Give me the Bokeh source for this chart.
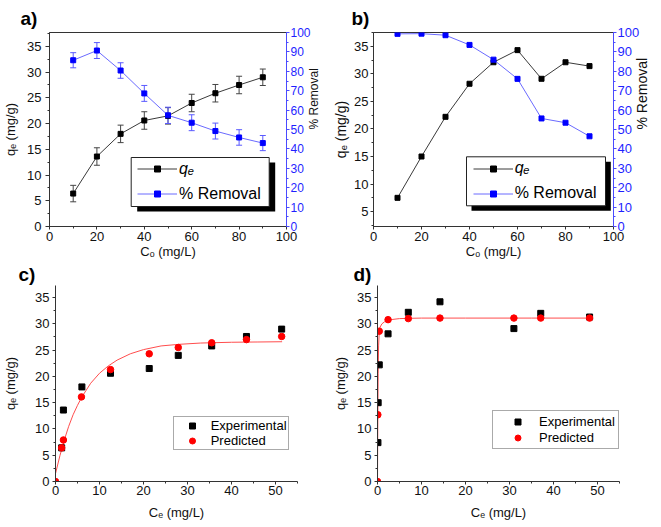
import numpy as np
from bokeh.plotting import figure
from bokeh.models import (Range1d, LinearAxis, SingleIntervalTicker, Legend,
                          LegendItem, Whisker, TeeHead, ColumnDataSource, BoxAnnotation)
from bokeh.layouts import column, row
from bokeh.embed import file_html
from bokeh.resources import INLINE

FONT = "Liberation Sans"

# ---------------- data ----------------
c0 = [10, 20, 30, 40, 50, 60, 70, 80, 90]

# panel a
qe_a = [6.4, 13.6, 18.0, 20.6, 21.5, 24.0, 25.9, 27.5, 29.0]
qe_a_err = [1.6, 1.7, 1.7, 1.7, 1.6, 1.7, 1.7, 1.7, 1.6]
rem_a = [85.7, 90.7, 80.4, 68.6, 57.3, 53.5, 49.2, 45.9, 43.0]
rem_a_err = [3.9, 4.1, 4.0, 4.1, 4.2, 4.1, 4.1, 4.0, 3.9]

# panel b
qe_b = [7.5, 15.0, 22.2, 28.2, 32.1, 34.3, 29.1, 32.1, 31.4]
rem_b = [99.3, 99.4, 98.6, 93.6, 86.0, 76.1, 55.7, 53.5, 46.5]

# panel c
ce_c_exp = [1.4, 1.8, 6.0, 12.5, 21.3, 27.9, 35.5, 43.4, 51.4]
qe_c_exp = [6.4, 13.6, 18.0, 20.6, 21.5, 24.0, 25.8, 27.6, 29.0]
ce_c_pred = [0.0, 1.4, 1.8, 5.9, 12.5, 21.3, 27.9, 35.5, 43.4, 51.4]
qe_c_pred = [0.0, 6.4, 7.9, 16.1, 21.3, 24.3, 25.5, 26.4, 27.0, 27.6]
ce_c_fit = [0, 1, 2, 3, 4, 5, 6, 8, 10, 12, 14, 17, 20, 24, 28, 33, 40, 46, 51.5]
qe_c_fit = [1.5, 4.9, 7.9, 10.5, 12.7, 14.5, 16.1, 18.7, 20.6, 22.0, 23.1, 24.3,
            25.1, 25.8, 26.1, 26.35, 26.5, 26.55, 26.6]

# panel d
ce_d_exp = [0.1, 0.15, 0.4, 2.4, 7.0, 14.2, 31.0, 37.1, 48.2]
qe_d_exp = [7.4, 15.0, 22.2, 28.1, 32.2, 34.2, 29.1, 32.0, 31.3]
ce_d_pred = [0.0, 0.08, 0.4, 2.4, 7.0, 14.2, 31.0, 37.1, 48.2]
qe_d_pred = [0.0, 12.7, 28.6, 30.8, 31.0, 31.1, 31.1, 31.1, 31.1]
ce_d_fit = [0, 0.03, 0.08, 0.15, 0.25, 0.4, 0.6, 1.0, 1.6, 2.4, 3.5, 5, 7, 10, 20, 35, 48.2]
qe_d_fit = [0, 5.5, 12.7, 20.5, 25.8, 28.6, 29.4, 30.0, 30.4, 30.7, 30.85, 31.0,
            31.05, 31.1, 31.1, 31.1, 31.1]

# labels
panel_tags = ["a)", "b)", "c)", "d)"]
x_label_top = "Cₒ (mg/L)"
x_label_bottom = "Cₑ (mg/L)"
y_label = "qₑ (mg/g)"
y2_label = "% Removal"
leg_top = ["qₑ", "% Removal"]
leg_bottom = ["Experimental", "Predicted"]

# ---------------- helpers ----------------
AX = "#333333"
BLUE_AX = "#4a4aff"
BLUE_TXT = "#1f1fff"


def base_fig(w, h, xr, yr, bl, br, bt, bb, tag, tag_offset, tag_standoff, outline):
    p = figure(width=w, height=h, output_backend="svg", toolbar_location=None,
               x_range=Range1d(*xr), y_range=Range1d(*yr), title=tag,
               min_border_left=bl, min_border_right=br, min_border_top=bt, min_border_bottom=bb)
    p.xgrid.visible = False
    p.ygrid.visible = False
    p.outline_line_color = AX if outline else None
    p.background_fill_color = "white"
    p.border_fill_color = "white"
    p.title.align = "left"
    p.title.offset = tag_offset
    p.title.standoff = tag_standoff
    p.title.text_font = FONT
    p.title.text_font_size = "19px"
    p.title.text_font_style = "bold"
    p.title.text_color = "#000000"
    return p


def style_axis(ax, tick_out, standoff, label, label_size, label_standoff,
               line=AX, lab="#111111", tick_size=13):
    ax.axis_line_color = line
    ax.major_tick_line_color = line
    ax.minor_tick_line_color = line
    ax.major_tick_out = tick_out
    ax.major_tick_in = 0
    ax.minor_tick_out = 2
    ax.minor_tick_in = 0
    ax.major_label_text_font = FONT
    ax.major_label_text_font_size = f"{tick_size}px"
    ax.major_label_text_color = lab
    ax.major_label_standoff = standoff
    ax.axis_label = label
    ax.axis_label_text_font = FONT
    ax.axis_label_text_font_size = f"{label_size}px"
    ax.axis_label_text_font_style = "normal"
    ax.axis_label_text_color = "#111111"
    ax.axis_label_standoff = label_standoff


def right_axis(p, standoff, label_size, label_standoff, tick_size):
    p.extra_y_ranges = {"pct": Range1d(0, 100)}
    ax = LinearAxis(y_range_name="pct", ticker=SingleIntervalTicker(interval=10, num_minor_ticks=2))
    style_axis(ax, 3, standoff, y2_label, label_size, label_standoff, line=BLUE_AX, lab=BLUE_TXT,
               tick_size=tick_size)
    try:
        ax.axis_label_orientation = np.pi / 2
    except Exception:
        pass
    p.add_layout(ax, "right")


def box(p, l, r, b, t, fill, line):
    p.add_layout(BoxAnnotation(left=l, right=r, bottom=b, top=t,
                               left_units="screen", right_units="screen",
                               bottom_units="screen", top_units="screen",
                               fill_color=fill, fill_alpha=1.0,
                               line_color=line, line_width=1, line_alpha=1.0))


def leg(p, items, loc, gw, gh, standoff, size, style="normal", padding=0, spacing=0,
        border=None):
    lg = Legend(items=items, location=loc, glyph_width=gw, glyph_height=gh, label_height=gh,
                label_width=10, padding=padding, margin=0, spacing=spacing,
                label_standoff=standoff, label_text_font=FONT,
                label_text_font_size=f"{size}px", label_text_font_style=style,
                label_text_color="#000000")
    if border is None:
        lg.border_line_color = None
        lg.background_fill_alpha = 0
    else:
        lg.border_line_color = border
        lg.border_line_width = 1
        lg.background_fill_color = "white"
        lg.background_fill_alpha = 1
    p.add_layout(lg)


# ---------------- panel a ----------------
pa = base_fig(330, 261, (0, 100), (0, 37.7), 47, 43, 32, 34, panel_tags[0], -29, 7, True)
pa.xaxis.ticker = SingleIntervalTicker(interval=20, num_minor_ticks=2)
pa.yaxis.ticker = SingleIntervalTicker(interval=5, num_minor_ticks=2)
style_axis(pa.xaxis[0], 3, 2, x_label_top, 13, 0)
style_axis(pa.yaxis[0], 4, 4, y_label, 13, 6)
right_axis(pa, 1, 12, 0, 12)

src_a = ColumnDataSource(dict(
    x=c0, q=qe_a, r=rem_a,
    q_lo=np.array(qe_a) - np.array(qe_a_err), q_hi=np.array(qe_a) + np.array(qe_a_err),
    r_lo=np.array(rem_a) - np.array(rem_a_err), r_hi=np.array(rem_a) + np.array(rem_a_err)))
pa.add_layout(Whisker(source=src_a, base="x", upper="q_hi", lower="q_lo", line_color="#444444",
                      upper_head=TeeHead(size=6, line_color="#444444"),
                      lower_head=TeeHead(size=6, line_color="#444444")))
pa.add_layout(Whisker(source=src_a, base="x", upper="r_hi", lower="r_lo", y_range_name="pct",
                      line_color="#5a5aff",
                      upper_head=TeeHead(size=6, line_color="#5a5aff"),
                      lower_head=TeeHead(size=6, line_color="#5a5aff")))
la1 = pa.line("x", "q", source=src_a, line_color="#3a3a3a", line_width=1)
sa1 = pa.scatter("x", "q", source=src_a, marker="square", size=5, color="#000000")
la2 = pa.line("x", "r", source=src_a, y_range_name="pct", line_color="#6a6aff", line_width=1)
sa2 = pa.scatter("x", "r", source=src_a, y_range_name="pct", marker="square", size=5,
                 color="#0000ff")

box(pa, 87.7, 225.7, 15, 64, "black", None)
box(pa, 81.7, 219.7, 20, 69, "white", "#222222")
leg(pa, [LegendItem(label=leg_top[0], renderers=[la1, sa1])], (88, 48.5), 40, 15, 2, 16, "italic")
leg(pa, [LegendItem(label=leg_top[1], renderers=[la2, sa2])], (88, 23.5), 40, 15, 2, 16)

# ---------------- panel b ----------------
pb = base_fig(331, 261, (0, 100), (2.3, 37.5), 42, 46, 32, 34, panel_tags[1], -22, 7, True)
pb.xaxis.ticker = SingleIntervalTicker(interval=20, num_minor_ticks=2)
pb.yaxis.ticker = SingleIntervalTicker(interval=5, num_minor_ticks=2)
style_axis(pb.xaxis[0], 3, 2, x_label_top, 13, 0)
style_axis(pb.yaxis[0], 3, 2, y_label, 14, 2)
right_axis(pb, 1, 14, 0, 13)

src_b = ColumnDataSource(dict(x=c0, q=qe_b, r=rem_b))
lb1 = pb.line("x", "q", source=src_b, line_color="#3a3a3a", line_width=1)
sb1 = pb.scatter("x", "q", source=src_b, marker="square", size=5, color="#000000")
lb2 = pb.line("x", "r", source=src_b, y_range_name="pct", line_color="#6a6aff", line_width=1)
sb2 = pb.scatter("x", "r", source=src_b, y_range_name="pct", marker="square", size=5,
                 color="#0000ff")

box(pb, 98, 237.3, 15.7, 64.7, "black", None)
box(pb, 93, 232, 20.7, 69.7, "white", "#222222")
leg(pb, [LegendItem(label=leg_top[0], renderers=[lb1, sb1])], (99.7, 48.8), 40, 15, 2, 16, "italic")
leg(pb, [LegendItem(label=leg_top[1], renderers=[lb2, sb2])], (99.7, 23.8), 40, 15, 2, 16)

# ---------------- panel c ----------------
pc = base_fig(330, 266, (0, 55), (0, 37.3), 54, 33, 24, 46, panel_tags[2], -37, 1, False)
pc.xaxis.ticker = SingleIntervalTicker(interval=10, num_minor_ticks=2)
pc.yaxis.ticker = SingleIntervalTicker(interval=5, num_minor_ticks=2)
style_axis(pc.xaxis[0], 3, 1, x_label_bottom, 13, 7)
style_axis(pc.yaxis[0], 3, 3, y_label, 13, 14)
pc.line(ce_c_fit, qe_c_fit, line_color="#ff4d4d", line_width=1)
ec = pc.scatter(ce_c_exp, qe_c_exp, marker="square", size=6, color="#000000")
rc = pc.scatter(ce_c_pred, qe_c_pred, marker="circle", size=6.5, color="#ff0000")
leg(pc, [LegendItem(label=leg_bottom[0], renderers=[ec]),
         LegendItem(label=leg_bottom[1], renderers=[rc])],
    (117.7, 31), 34, 15, 2, 13, padding=1, spacing=0, border="#555555")

# ---------------- panel d ----------------
pd_ = base_fig(331, 266, (0, 55), (0, 37.3), 46, 42, 24, 46, panel_tags[3], -24, 1, False)
pd_.xaxis.ticker = SingleIntervalTicker(interval=10, num_minor_ticks=2)
pd_.yaxis.ticker = SingleIntervalTicker(interval=5, num_minor_ticks=2)
style_axis(pd_.xaxis[0], 3, 1, x_label_bottom, 13, 7)
style_axis(pd_.yaxis[0], 3, 3, y_label, 13, 6)
pd_.line(ce_d_fit, qe_d_fit, line_color="#ff4d4d", line_width=1)
ed = pd_.scatter(ce_d_exp, qe_d_exp, marker="square", size=6, color="#000000")
rd = pd_.scatter(ce_d_pred, qe_d_pred, marker="circle", size=6.5, color="#ff0000")
leg(pd_, [LegendItem(label=leg_bottom[0], renderers=[ed]),
          LegendItem(label=leg_bottom[1], renderers=[rd])],
    (115, 31.7), 43, 15, 0, 13, padding=3, spacing=1, border="#555555")

layout = column(row(pa, pb, spacing=0), row(pc, pd_, spacing=0), spacing=0)
open("out.html", "w").write(file_html(layout, INLINE))
